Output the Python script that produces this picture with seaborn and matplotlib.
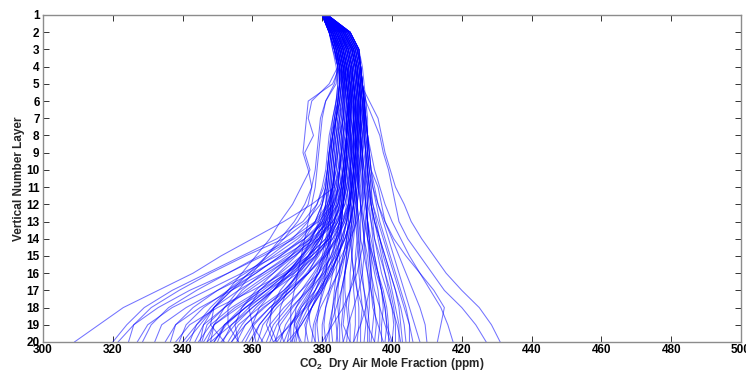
import numpy as np
import pandas as pd
import matplotlib
matplotlib.use("Agg")
import matplotlib.pyplot as plt
import seaborn as sns

# ---------------- data ----------------
layers = list(range(1, 21))
x_ticks = [300, 320, 340, 360, 380, 400, 420, 440, 460, 480, 500]
y_ticks = list(range(1, 21))

# profiles that bend far to the left near the surface
left_fan = [
    [380, 382.5, 384, 385, 386, 386.5, 386.5, 386, 385.5, 385, 383.5, 377, 369, 360, 351, 343, 333, 323, 316, 309],
    [380, 382, 383.5, 385, 385, 384.5, 383.5, 383, 382, 381.5, 380.5, 378.5, 374.5, 367, 357, 347, 337, 329, 324, 320],
    [380.5, 383, 385, 386, 387, 387.5, 387.5, 387, 386.5, 386, 385, 383, 379, 372, 363, 353, 342, 333, 326, 321.5],
    [380, 382, 383, 384.5, 384.5, 384, 383, 382.5, 382, 381.5, 381, 379.5, 375.5, 369, 358, 348, 339, 331, 326, 324.5],
    [380.5, 383.5, 385.5, 386.5, 387, 387.5, 388, 388, 387.5, 387, 386, 384.5, 381, 375, 367, 357, 347, 337, 330, 327],
    [380, 382.5, 384, 385.5, 386, 386, 385.5, 385, 384.5, 383.5, 383, 381.5, 378, 371, 362, 353, 344, 336, 331, 328.5],
    [380, 383, 384.5, 385.5, 386.5, 387, 387, 386.5, 386, 386, 385.5, 384.5, 382, 377, 369, 360, 350, 341, 334, 332],
    [381, 384, 386, 387, 388, 388.5, 388.5, 388, 388, 387.5, 387, 386, 383, 378, 371, 363, 354, 345, 338, 335],
    [380.5, 382.5, 384, 385, 385, 384, 383, 382, 381.5, 381, 380, 378.5, 376, 371.5, 365, 358, 350, 343, 338, 336.5],
    [380, 383, 385, 386, 387, 387.5, 387, 387, 386.5, 386, 385.5, 385, 383.5, 381, 376, 369, 360, 350, 342, 338],
    [380, 382, 383.5, 385, 385, 384.5, 383.5, 382.5, 382, 381.5, 381, 380, 378, 374, 368, 361, 353, 346, 341, 339],
    [381, 385, 387, 388, 389, 389.5, 389, 389, 388.5, 388, 387.5, 386.5, 384, 379, 372, 364, 356, 349, 344, 342],
    [380, 382, 383.5, 384.5, 385.5, 386, 386, 385.5, 385, 385, 384.5, 383, 380, 375, 368, 361, 354, 349, 346, 343.5],
    [380.5, 384, 386, 387, 388, 388, 387.5, 387, 387, 386.5, 386, 385.5, 384.5, 382, 377, 370, 362, 354, 348, 344.5],
    [380.5, 383.5, 385.5, 386.5, 387, 386.5, 386, 385, 384.5, 384, 383, 382, 380, 376.5, 371, 365, 358, 352, 346, 345],
    [380, 382.5, 384.5, 385.5, 386, 386.5, 386, 385.5, 385.5, 385, 384.5, 383.5, 381.5, 377.5, 372, 366, 359, 352, 347, 345.5],
    [381, 385.5, 388, 389, 389.5, 390, 390, 389.5, 389, 389, 388.5, 388, 386, 383, 378, 372, 364, 356, 349, 346],
    [380, 382.5, 384.5, 385.5, 385.5, 385, 384, 383, 382.5, 382, 381.5, 381, 380, 378, 374.5, 369.5, 363, 355, 349, 348],
    [380.5, 384.5, 387, 388, 388.5, 389, 389, 388.5, 388.5, 388, 387.5, 386.5, 384.5, 381, 376, 370, 364, 358, 352, 349],
    [380, 383, 385, 386, 386.5, 387, 386.5, 386, 386, 385.5, 385, 384.5, 383.5, 381.5, 378, 373, 366, 358, 352, 350],
    [381, 386, 388.5, 389.5, 390, 390, 390, 389.5, 389.5, 389, 388.5, 387.5, 385.5, 382, 377, 371, 365, 359, 354, 351.5],
    [380, 383, 385, 386, 386.5, 387, 386.5, 386, 385.5, 385, 384, 382, 378.5, 373, 366, 359, 353, 349, 348, 352],
    [380.5, 383, 384.5, 385.5, 385.5, 385, 384, 383, 382.5, 382, 381.5, 381, 380.5, 379.5, 377, 373.5, 369, 362, 356, 353],
    [380, 382.5, 384, 385, 386, 386, 386, 385.5, 385, 384.5, 384, 383, 381, 378, 374, 370, 366, 361, 357, 354],
    [381, 385, 387.5, 388.5, 389, 389.5, 389.5, 389, 389, 388.5, 388, 387.5, 386.5, 384.5, 381, 376, 370, 363, 358, 355.5],
    [380.5, 384, 386, 387, 387.5, 388, 387.5, 387, 386.5, 386, 385, 383.5, 380.5, 376, 370, 363, 357, 353, 353, 356],
    [380.5, 384, 386.5, 387.5, 388, 388.5, 388.5, 388, 387.5, 387, 386.5, 386, 385, 383, 380, 376, 371, 365, 360, 357],
    [380, 383.5, 385.5, 386.5, 386.5, 386, 385, 384, 383.5, 383, 382.5, 382, 381.5, 380, 378, 374.5, 370, 365, 360.5, 358],
    [381, 386.5, 389, 390, 390.5, 391, 391, 390.5, 390, 389.5, 389, 388, 386.5, 384, 380.5, 376, 371, 366, 362, 359],
    [380.5, 384.5, 386.5, 387.5, 388, 388, 387.5, 387, 387, 386.5, 386, 385, 383.5, 381.5, 379, 375.5, 371, 366, 362, 360],
]

# profiles that stay nearer the main column
core = [
    [380, 382.5, 384, 385, 385, 384.5, 384, 383.5, 383, 382.5, 382, 381.5, 381, 380, 378.5, 376, 372, 367, 363, 361.5],
    [381, 385.5, 388, 389, 389.5, 390, 390, 389.5, 389.5, 389, 388.5, 388, 387, 385.5, 383, 379, 374, 369, 365, 362.5],
    [381, 385, 387.5, 388.5, 389, 389.5, 389, 389, 388.5, 388, 387, 385.5, 383, 379, 374, 368, 362, 359, 360, 363],
    [380.5, 383.5, 385.5, 386.5, 387, 387.5, 387, 387, 386.5, 386, 385.5, 385, 384, 382.5, 380.5, 377.5, 374, 370, 366, 364],
    [381, 387, 389.5, 390.5, 391, 391, 391, 390.5, 390.5, 390, 389.5, 389, 388, 386.5, 384, 380.5, 376, 371, 367, 365],
    [380, 383, 385, 386, 386, 385.5, 385, 384.5, 384, 383.5, 383, 383, 382.5, 382, 381, 379, 375.5, 371.5, 368, 366.5],
    [380.5, 383.5, 385.5, 386.5, 387, 387.5, 387, 387, 386.5, 386, 385.5, 384.5, 382.5, 379.5, 376, 372, 368, 365.5, 365, 367],
    [380.5, 384, 386, 387, 387.5, 388, 388, 387.5, 387, 387, 386.5, 386, 385, 383.5, 381.5, 379, 376, 372.5, 369.5, 368],
    [381, 386, 388.5, 389.5, 390, 390.5, 390.5, 390, 389.5, 389, 388.5, 388, 387, 385.5, 383.5, 381, 378, 374, 371, 369],
    [380, 382.5, 384.5, 385.5, 385.5, 385, 384.5, 384, 383.5, 383, 382.5, 382.5, 382, 381.5, 380.5, 379, 376.5, 373.5, 371, 370],
    [380.5, 385, 387, 388, 388.5, 389, 389, 388.5, 388, 388, 387.5, 387, 386, 384.5, 382.5, 380, 377, 374, 372, 371.5],
    [381, 386.5, 389, 390, 390.5, 391, 391, 390.5, 390, 390, 389.5, 389, 388, 386.5, 384.5, 382, 379, 376, 373.5, 372.5],
    [380.5, 383.5, 385.5, 386.5, 387, 387.5, 387.5, 387, 387, 386.5, 386, 385.5, 385, 384, 382.5, 380.5, 378, 375, 372.5, 373.5],
    [381, 386, 388.5, 389.5, 390, 390.5, 390, 390, 389.5, 389, 388.5, 387.5, 386, 384, 381, 378, 375, 372.5, 372, 374],
    [380, 383, 385, 386, 386, 385.5, 385, 384.5, 384, 383.5, 383.5, 383, 383, 382.5, 382, 381, 379, 377, 375.5, 375],
    [381, 385, 387.5, 388.5, 389, 389.5, 389.5, 389, 389, 388.5, 388, 387.5, 387, 386, 384.5, 382.5, 380, 377, 375, 376],
    [380.5, 384.5, 386.5, 387.5, 388, 388.5, 388, 388, 387.5, 387, 386.5, 386, 385.5, 384.5, 383.5, 382, 380.5, 379, 377.5, 377],
    [381.5, 387.5, 390, 391, 391, 391.5, 391.5, 391, 391, 390.5, 390, 389.5, 389, 388, 386.5, 384.5, 382, 379.5, 378, 378],
    [380, 382.5, 384, 385, 385, 384.5, 384, 383.5, 383, 382.5, 382.5, 382.5, 382.5, 382, 381.5, 381, 380, 379, 378.5, 379],
    [381, 386, 388.5, 389.5, 390, 390.5, 390.5, 390, 390, 389.5, 389, 388.5, 388, 387, 386, 384.5, 382.5, 381, 380, 380],
    [380.5, 384, 386, 387, 387.5, 388, 388, 387.5, 387.5, 387, 386.5, 386, 385.5, 385, 384, 383, 382, 381, 380.5, 381],
    [381, 386.5, 389, 390, 390.5, 391, 391, 390.5, 390, 390, 389.5, 389, 388.5, 387.5, 386.5, 385.5, 384, 383, 382, 382],
    [380.5, 383.5, 385.5, 386.5, 387, 387.5, 387.5, 387, 387, 386.5, 386.5, 386, 385.5, 385, 384.5, 384, 383.5, 383, 382.5, 383],
    [381.5, 388, 390.5, 391, 391.5, 392, 392, 391.5, 391.5, 391, 390.5, 390, 389.5, 388.5, 387.5, 386.5, 385.5, 385, 384.5, 384],
    [381, 385.5, 387.5, 388.5, 389, 389.5, 389.5, 389, 389, 388.5, 388, 388, 387.5, 387, 386, 385, 384, 383.5, 384, 384.5],
    [380, 383, 385, 386, 387, 387.5, 387, 387, 386.5, 386.5, 386, 386, 385.5, 385.5, 385, 385, 384.5, 384.5, 385, 385],
    [381, 385.5, 388, 389, 389.5, 390, 390, 389.5, 389.5, 389, 389, 388.5, 388, 387.5, 387, 386.5, 386, 386, 385.5, 386],
    [380.5, 384.5, 387, 388, 388.5, 389, 389, 388.5, 388.5, 388, 388, 387.5, 387.5, 387, 387, 386.5, 386.5, 387, 387.5, 387],
    [381.5, 387, 389.5, 390.5, 391, 391.5, 391.5, 391, 391, 390.5, 390.5, 390, 389.5, 389, 388.5, 388, 388, 387.5, 388, 388],
    [380.5, 384, 386, 387, 388, 388.5, 388.5, 388, 388.5, 388, 388.5, 388, 388.5, 388, 388.5, 389, 389, 389.5, 389.5, 389],
    [381, 386, 388.5, 389.5, 390, 390.5, 390.5, 390, 390.5, 390, 390.5, 390, 390, 390, 389.5, 389.5, 390, 390.5, 390.5, 390],
    [381.5, 388, 390.5, 391, 391.5, 392, 392, 392, 391.5, 391.5, 391.5, 391, 391, 391, 390.5, 390.5, 391, 391.5, 391, 391],
    [380.5, 385, 387.5, 388.5, 389, 389.5, 389.5, 389.5, 389.5, 389.5, 389.5, 390, 390, 390.5, 391, 391.5, 392, 392.5, 392.5, 392],
    [381, 386.5, 389, 390, 390.5, 391, 391, 391, 391, 391.5, 391.5, 391.5, 392, 392, 392.5, 393, 393.5, 393.5, 393, 393],
    [380.5, 384, 386, 387, 387.5, 388, 388, 388, 388, 388, 388.5, 389, 389.5, 390, 390.5, 391, 392, 393, 393.5, 393.5],
]

# extra, more irregular profiles that fill the column and the middle of the fan
column_mix = [
    [380, 382, 383.5, 384.5, 385, 384.5, 384, 383, 382.5, 382, 381.5, 380, 378, 375, 371, 366, 361, 357, 355, 356],
    [380.5, 383, 384.5, 385.5, 386, 385.5, 384.5, 384, 383, 382.5, 382, 381, 379.5, 377, 374, 370, 366, 362, 360, 361],
    [381, 385, 387, 388, 388.5, 388, 387, 386.5, 385.5, 384.5, 383.5, 382.5, 381, 379, 376.5, 373, 369.5, 366, 364, 366],
    [380, 382.5, 384, 385, 385.5, 385, 384, 383.5, 383, 383.5, 383, 382, 380.5, 378.5, 376, 373, 370, 368, 367.5, 369],
    [381, 386, 388.5, 389.5, 390, 390.5, 391, 391.5, 392, 392.5, 392, 391.5, 390, 388, 385.5, 383, 380, 377, 374, 371],
    [380.5, 384, 386.5, 387.5, 388, 389, 389.5, 389, 389.5, 390, 390.5, 391, 391.5, 392, 392, 391.5, 390.5, 389, 387.5, 386],
    [381.5, 387.5, 390, 391, 391.5, 392.5, 393, 393, 393.5, 393, 393.5, 393, 392.5, 392, 391, 390, 388, 386, 383, 380],
    [380.5, 383.5, 385, 386, 386.5, 386, 385.5, 384.5, 384, 383.5, 383, 382.5, 382, 381, 380, 378.5, 377, 375, 373, 372],
    [381, 385.5, 387.5, 388.5, 389, 388.5, 388, 387, 386, 385, 384.5, 384, 383.5, 382.5, 381.5, 380, 378, 376, 376.5, 378],
    [380, 382, 383, 384, 384.5, 384, 383.5, 383, 382, 381.5, 381, 380, 379, 377, 374.5, 371, 366, 360, 354, 348],
    [380.5, 384.5, 386, 387, 387.5, 387.5, 387, 386, 385.5, 385, 384.5, 383.5, 382, 379.5, 376, 371.5, 366, 360, 355, 351],
    [381.5, 388, 390.5, 391.5, 392, 392.5, 392.5, 393, 393, 393.5, 394, 394, 394.5, 395, 396, 397, 398.5, 400, 401.5, 402.5],
    [381, 386, 388.5, 389.5, 390.5, 391, 391.5, 391, 391.5, 392, 392, 392.5, 393, 393.5, 394.5, 395.5, 397, 398, 398.5, 400],
    [380.5, 384, 386, 387, 388, 388.5, 389, 389.5, 390, 390.5, 391, 391, 391.5, 392, 393, 393.5, 394, 394.5, 396, 397.5],
    [381, 385.5, 387.5, 388.5, 389, 389.5, 390, 390, 390.5, 390.5, 390, 389.5, 389, 388.5, 388.5, 389, 390, 391.5, 393, 395],
    [380, 382.5, 384.5, 385.5, 386.5, 387, 387.5, 388, 388.5, 389, 389.5, 390, 390.5, 390.5, 390, 389, 388, 386.5, 386, 388],
    [381.5, 387, 389.5, 390.5, 391, 391.5, 392, 392, 392.5, 392.5, 393, 393, 393, 393.5, 393.5, 394, 395, 396.5, 398, 399.5],
    [380.5, 383.5, 385.5, 386.5, 387.5, 388, 388, 387.5, 387, 386.5, 386, 385.5, 385, 384, 383, 381.5, 379.5, 377, 374, 370],
    [381, 386.5, 389, 390, 390.5, 391, 390.5, 390, 389.5, 389, 388.5, 388, 387, 386, 384.5, 382.5, 379.5, 375.5, 371, 366],
    [380, 383, 385, 386, 386.5, 386.5, 386, 385, 384.5, 384, 383, 381.5, 379.5, 376.5, 372.5, 367.5, 362, 357, 352, 347],
    [380.5, 384.5, 386.5, 387.5, 388, 388.5, 388, 387.5, 387, 386.5, 385.5, 384, 382, 379, 375, 370, 364, 358, 352.5, 349],
    [381, 385, 387, 388, 388.5, 389, 389, 388.5, 388, 387.5, 387, 386, 384.5, 382, 378.5, 374, 369, 363.5, 358, 354],
    [381.5, 387.5, 390, 391, 391.5, 392, 392, 391.5, 391, 390.5, 390, 389, 388, 386.5, 384.5, 382, 379, 375, 370.5, 367],
    [380.5, 385, 387, 388, 389, 389.5, 390, 390.5, 391, 391.5, 392, 392.5, 393, 393.5, 394, 394, 393.5, 392.5, 391, 389],
    [381, 386, 388, 389, 389.5, 390, 390, 390, 389.5, 389.5, 389, 389, 388.5, 388, 387.5, 386.5, 385.5, 384, 382.5, 381],
]

# profiles that drift to the right
right_fan = [
    [381.5, 387.5, 390, 391, 391.5, 392, 392, 392, 392.5, 392.5, 392.5, 392.5, 393, 393, 393.5, 394, 394.5, 395, 394.5, 394],
    [380.5, 384.5, 386.5, 387.5, 388.5, 389, 389, 389, 389, 389.5, 389.5, 390, 390.5, 391, 392, 393, 394, 395, 395.5, 395],
    [381, 386, 388.5, 389.5, 390, 390.5, 390.5, 390.5, 391, 391, 391.5, 392, 392.5, 393, 394, 395, 396, 396.5, 396.5, 396],
    [381.5, 388, 390.5, 391, 391.5, 392, 392, 392.5, 392.5, 393, 393, 393.5, 394, 394.5, 395, 396, 397, 397.5, 397, 397],
    [381, 386.5, 389, 390, 390.5, 391, 391, 391, 391.5, 391.5, 392, 392.5, 393, 394, 395, 396, 397, 398, 398.5, 398],
    [380.5, 385, 387.5, 388.5, 389, 389.5, 389.5, 389.5, 390, 390, 390.5, 391, 392, 393, 394.5, 396, 397.5, 398.5, 399, 399],
    [381.5, 387.5, 390, 391, 391.5, 392, 392.5, 392.5, 393, 393, 393.5, 394, 395, 396, 397, 398, 399, 400, 400.5, 400],
    [381, 386, 388.5, 389.5, 390, 390.5, 391, 391, 391.5, 392, 392.5, 393, 394, 395, 396.5, 398, 399.5, 400.5, 401, 401],
    [381.5, 388, 390.5, 391, 391.5, 392, 392.5, 393, 393, 393.5, 394, 394.5, 395.5, 396.5, 397.5, 399, 400, 401, 402, 402],
    [381, 387, 389.5, 390.5, 391, 391.5, 392, 392, 392.5, 393, 393.5, 394, 395, 396.5, 398, 399.5, 401, 402, 402.5, 403],
    [380.5, 385.5, 388, 389, 389.5, 390, 390.5, 391, 391.5, 392, 393, 394, 395, 396.5, 398, 399.5, 401, 402.5, 403.5, 404],
    [381.5, 387.5, 390, 391, 391.5, 392, 392.5, 393, 393.5, 394, 394.5, 395.5, 396.5, 398, 399.5, 401, 402.5, 404, 405, 405],
    [381, 386.5, 389, 390, 390.5, 391, 391.5, 392, 392.5, 393, 393.5, 394.5, 396, 397.5, 399, 400.5, 402, 403.5, 405, 406],
    [381.5, 388, 390.5, 391, 391.5, 392, 392.5, 393, 393.5, 394, 395, 396, 397.5, 399, 400.5, 402, 403.5, 405, 406.5, 408],
    [381, 387, 389.5, 390.5, 391, 391.5, 392, 392.5, 393, 393.5, 394.5, 396, 398, 400, 402, 404, 406, 408, 409.5, 410],
    [381.5, 388, 390.5, 391, 391.5, 392, 392.5, 393, 393.5, 394, 396, 397, 398, 400.5, 404, 408, 412, 415, 414, 413],
    [381, 386.5, 389, 390, 390.5, 391.5, 392, 393, 394, 395, 396.5, 398, 400, 402.5, 405, 408, 411, 414, 416, 417.5],
    [381.5, 387.5, 390, 391, 391.5, 392.5, 394.5, 396.5, 397.5, 399, 400, 401, 402, 404.5, 408, 411.5, 415, 420, 424, 427],
    [381, 387, 389.5, 390.5, 391, 393.5, 396, 397, 398, 399.5, 401, 403.5, 405.5, 408.5, 412, 415.5, 420, 425, 428.5, 431],
]

# profiles that leave the column early at mid levels
left_outliers = [
    [380, 382, 383.5, 384.5, 382, 377, 376, 377.5, 375, 376.5, 374, 371.5, 368, 365, 361, 357, 353, 348, 344, 340],
    [380, 382.5, 384, 385, 383, 376, 375.5, 375, 374.5, 376, 377, 376, 373, 369, 364, 359, 354, 349, 345, 341],
    [380, 382, 383.5, 384.5, 384, 381, 379.5, 379, 378.5, 378, 377, 375, 372, 368, 364, 360, 356, 352, 349, 347],
    [380, 382, 383.5, 384.5, 383.5, 381, 380, 379.5, 379, 378.5, 378, 377, 376, 375, 374, 373, 372, 371, 371, 371],
]

# ---------------- build long table ----------------
groups = [("left_fan", left_fan), ("core", core), ("column_mix", column_mix),
          ("right_fan", right_fan), ("left_outliers", left_outliers)]
rows = []
pid = 0
for gname, plist in groups:
    for prof in plist:
        for lev, val in zip(layers, prof):
            rows.append({"profile": pid, "group": gname, "layer": lev, "ppm": val})
        pid += 1
df = pd.DataFrame(rows)

# ---------------- style ----------------
sns.set_theme(style="white")
plt.rcParams["font.family"] = ["Liberation Sans", "DejaVu Sans"]
plt.rcParams["font.weight"] = "bold"
plt.rcParams["mathtext.fontset"] = "custom"
plt.rcParams["mathtext.rm"] = "Liberation Sans:bold"
plt.rcParams["mathtext.bf"] = "Liberation Sans:bold"
plt.rcParams["mathtext.it"] = "Liberation Sans:bold"

fig = plt.figure(figsize=(7.46, 3.73), dpi=100)
ax = fig.add_axes([43 / 746, 1 - 342 / 373, (741 - 43) / 746, (342 - 15) / 373])

sns.lineplot(data=df, x="ppm", y="layer", units="profile", estimator=None,
             sort=False, orient="y", color="#0000ff", linewidth=0.75, alpha=0.55,
             ax=ax, legend=False)

ax.set_xlim(300, 500)
ax.set_ylim(20, 1)
ax.set_xticks(x_ticks)
ax.set_yticks(y_ticks)
ax.set_xticklabels([str(v) for v in x_ticks], fontsize=8.5, fontweight="bold")
ax.set_yticklabels([str(v) for v in y_ticks], fontsize=8.5, fontweight="bold")
ax.tick_params(axis="both", which="both", direction="in", length=4, width=0.7,
               color="#333333", top=True, right=True, bottom=True, left=True,
               labelcolor="black")
ax.tick_params(axis="x", pad=1.5)
ax.tick_params(axis="y", pad=2.5)
for sp in ax.spines.values():
    sp.set_visible(True)
    sp.set_color("#8c8c8c")
    sp.set_linewidth(1.0)

ax.set_xlabel(r"CO$_{\mathbf{2}}$  Dry Air Mole Fraction (ppm)", fontsize=8.5,
              fontweight="bold", labelpad=0)
ax.set_ylabel("Vertical Number Layer", fontsize=8.5, fontweight="bold", labelpad=1)

fig.savefig("out.png", dpi=100)
